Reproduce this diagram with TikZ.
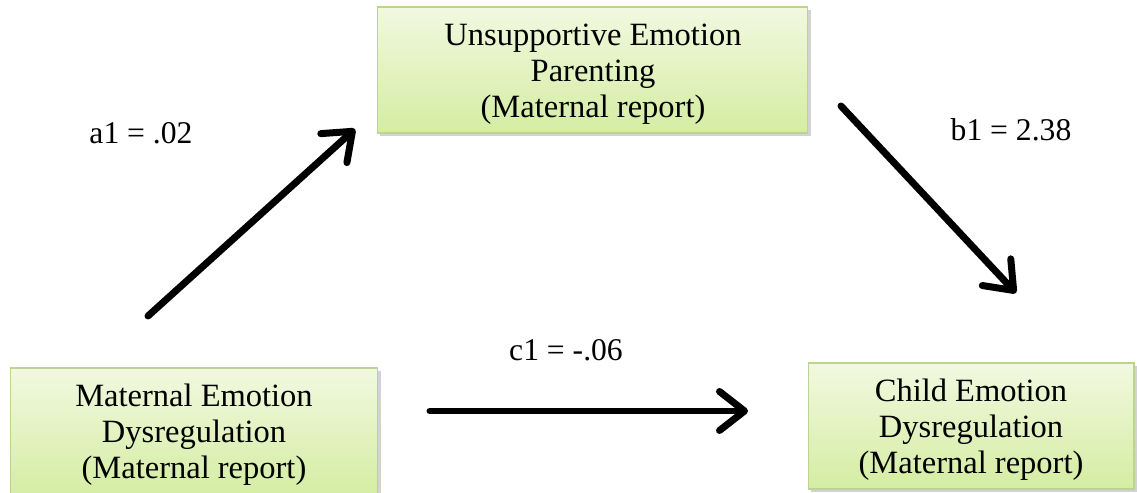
\documentclass[tikz,border=0pt]{standalone}
\usepackage{fontspec}
\setmainfont{Liberation Serif}
\usetikzlibrary{arrows.meta,shadows}
\definecolor{boxtop}{HTML}{F2F8E0}
\definecolor{boxbot}{HTML}{D4EDA2}
\definecolor{boxline}{HTML}{BCD58E}
\tikzset{
  varbox/.style={draw=boxline, line width=0.6pt, top color=boxtop, bottom color=boxbot,
    drop shadow={shadow xshift=0.06cm, shadow yshift=-0.06cm, opacity=0.35},
    inner sep=0pt},
  boxtext/.style={align=center, inner sep=0pt, font=\fontsize{18.5}{20.5}\selectfont},
  coef/.style={font=\fontsize{18}{21}\selectfont, inner sep=0pt},
  patharrow/.style={line width=0.14cm, line cap=round, line join=round,
    -{Straight Barb[length=0.5cm, width=0.78cm, line cap=round, line join=round]}}
}
\begin{document}
\begin{tikzpicture}[x=0.02cm,y=-0.02cm]
\useasboundingbox (0,0) rectangle (1137,493);
\node[varbox, minimum width=8.62cm, minimum height=2.52cm] (med) at (592.5,70) {};
\node[varbox, minimum width=7.36cm, minimum height=2.56cm] (pred) at (194,432) {};
\node[varbox, minimum width=6.52cm, minimum height=2.52cm] (out) at (971,426) {};
\node[boxtext] (medtext) at (593,74) {Unsupportive Emotion\\Parenting\\(Maternal report)};
\node[boxtext] (predtext) at (194,435) {Maternal Emotion\\Dysregulation\\(Maternal report)};
\node[boxtext] (outtext) at (971,430) {Child Emotion\\Dysregulation\\(Maternal report)};
\node[coef] (la) at (141,133) {a1 = .02};
\node[coef] (lb) at (1011,130) {b1 = 2.38};
\node[coef] (lc) at (566,350) {c1 = -.06};
\coordinate (a0) at (148,316);
\coordinate (a1) at (355,129);
\coordinate (b0) at (841,106);
\coordinate (b1) at (1016,293);
\coordinate (c0) at (430,411);
\coordinate (c1) at (748,411);
\draw[patharrow] (a0) -- (a1);
\draw[patharrow] (b0) -- (b1);
\draw[patharrow] (c0) -- (c1);
\end{tikzpicture}
\end{document}
